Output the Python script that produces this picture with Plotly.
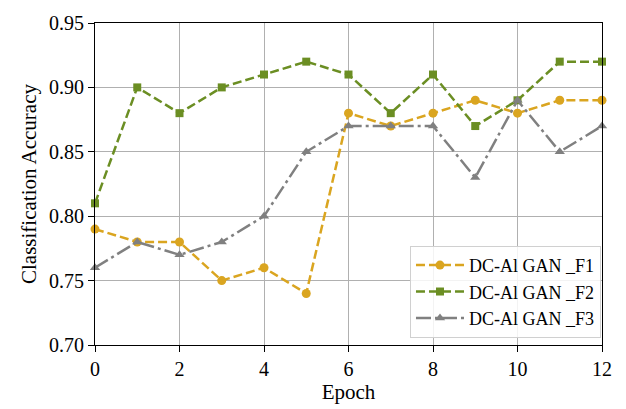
import plotly.graph_objects as go

epochs = list(range(13))
f1 = [0.79, 0.78, 0.78, 0.75, 0.76, 0.74, 0.88, 0.87, 0.88, 0.89, 0.88, 0.89, 0.89]
f2 = [0.81, 0.90, 0.88, 0.90, 0.91, 0.92, 0.91, 0.88, 0.91, 0.87, 0.89, 0.92, 0.92]
f3 = [0.76, 0.78, 0.77, 0.78, 0.80, 0.85, 0.87, 0.87, 0.87, 0.83, 0.89, 0.85, 0.87]
names = ["DC-Al GAN _F1", "DC-Al GAN _F2", "DC-Al GAN _F3"]
x_ticks = [0, 2, 4, 6, 8, 10, 12]
y_ticks = [0.70, 0.75, 0.80, 0.85, 0.90, 0.95]

font = "'Times New Roman', 'Liberation Serif', serif"
fig = go.Figure()
styles = [
    (f1, "#DAA520", "9px,4px", "circle", 9),
    (f2, "#6B8E23", "9px,4px", "square", 8),
    (f3, "#808080", "15px,4px,3px,4px", "triangle-up", 9),
]
for (vals, col, dash, sym, ms), nm in zip(styles, names):
    fig.add_trace(go.Scatter(
        x=epochs, y=vals, name=nm, mode="lines+markers",
        line=dict(color=col, width=2.5, dash=dash),
        marker=dict(color=col, symbol=sym, size=ms),
        cliponaxis=False,
    ))

axis_common = dict(
    showline=True, linecolor="black", linewidth=1.2, mirror=True,
    ticks="outside", ticklen=6, tickcolor="black",
    showgrid=True, gridcolor="#b0b0b0", gridwidth=1,
    zeroline=False,
    tickfont=dict(family=font, size=20, color="black"),
    title_font=dict(family=font, size=21, color="black"),
)
fig.update_xaxes(range=[0, 12], tickvals=x_ticks, title_text="Epoch",
                 title_standoff=2, **axis_common)
fig.update_yaxes(range=[0.70, 0.95], tickvals=y_ticks, tickformat=".2f",
                 title_text="Classification Accuracy", title_standoff=6,
                 **axis_common)
fig.update_layout(
    width=626, height=409,
    margin=dict(l=95, r=24, t=18, b=61),
    plot_bgcolor="white", paper_bgcolor="white",
    font=dict(family=font, size=18, color="black"),
    legend=dict(
        x=0.998, y=0.022, xanchor="right", yanchor="bottom",
        bgcolor="rgba(255,255,255,0.85)", bordercolor="#d0d0d0", borderwidth=1,
        font=dict(family=font, size=18, color="black"),
        itemwidth=48, tracegroupgap=2,
    ),
)
fig.write_html("out.html")
